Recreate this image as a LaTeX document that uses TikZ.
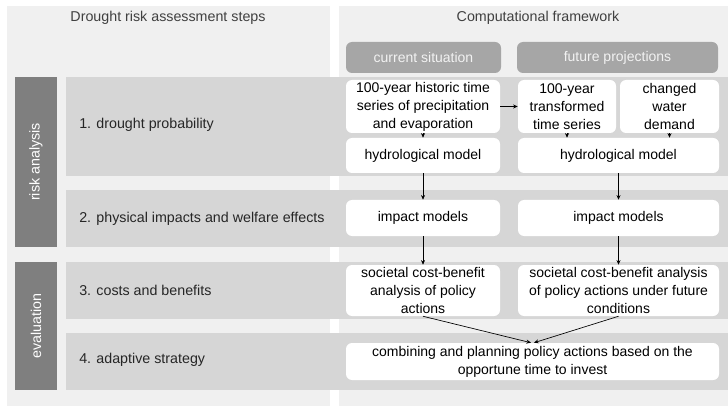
\documentclass[tikz,border=0pt]{standalone}
\usepackage{fontspec}
\setmainfont{Liberation Sans}
\usepackage{tikz}
\usetikzlibrary{arrows.meta}

\definecolor{panelgray}{HTML}{F0F0F0}
\definecolor{bandgray}{HTML}{D6D6D6}
\definecolor{headgray}{HTML}{A6A6A6}
\definecolor{sidegray}{HTML}{7F7F7F}
\definecolor{titlegray}{HTML}{404040}

\tikzset{
  wbox/.style={fill=white, rounded corners=4.5pt, inner sep=0pt, align=center, text=black, font=\fontsize{10.5}{13.5}\selectfont},
  hbox/.style={fill=headgray, rounded corners=4.5pt, inner sep=0pt, align=center, text=white!95!black, font=\fontsize{10.5}{13.5}\selectfont},
  lbl/.style={inner sep=0.75pt, text=black!85, font=\fontsize{10.7}{13.5}\selectfont},
  flow/.style={-{Stealth[length=3.5pt,width=3pt]}, line width=0.5pt, black}
}

\begin{document}
\begin{tikzpicture}[x=0.75pt,y=0.75pt,yscale=-1,xscale=1]
\useasboundingbox (0,0) rectangle (728,406);

%Shape: Rectangle (panels)
\fill[panelgray] (7,6) rectangle (330,406);
\fill[panelgray] (339,6) rectangle (728,406);
%Shape: Rectangle (row bands)
\fill[bandgray] (66,77) rectangle (728,176);
\fill[bandgray] (66,190) rectangle (728,247);
\fill[bandgray] (66,262) rectangle (728,319);
\fill[bandgray] (66,333) rectangle (728,390);
%Shape: Rectangle (side bars)
\fill[sidegray] (15,77) rectangle (57,247);
\fill[sidegray] (15,262) rectangle (57,390);

% Text Node
\draw (36,162) node (riskanalysis) [rotate=90, text=white, font=\fontsize{10.7}{13.5}\selectfont] {risk analysis};
% Text Node
\draw (36,326) node (evaluation) [rotate=90, text=white, font=\fontsize{10.7}{13.5}\selectfont] {evaluation};

% Text Node
\draw (168,18) node (stepstitle) [lbl, text=titlegray] {Drought risk assessment steps};
% Text Node
\draw (538,18) node (frametitle) [lbl, text=titlegray] {Computational framework};

% Text Node
\draw (78,125) node (step1) [lbl, anchor=west] {1. drought probability};
% Text Node
\draw (78,219) node (step2) [lbl, anchor=west] {2. physical impacts and welfare effects};
% Text Node
\draw (78,290) node (step3) [lbl, anchor=west] {3. costs and benefits};
% Text Node
\draw (78,360) node (step4) [lbl, anchor=west] {4. adaptive strategy};

%Shape: Rounded Rect (headers)
\draw (423.5,57.5) node (current) [hbox, minimum width=116.25pt, minimum height=23.25pt] {current situation};
\draw (617.5,57.5) node (future) [hbox, minimum width=150.75pt, minimum height=23.25pt] {future projections};

%Shape: Rounded Rect (row 1)
\draw (423,106.5) node (hist) [wbox, minimum width=115.5pt, minimum height=39.75pt] {100-year historic time\\series of precipitation\\and evaporation};
\draw (567,106.5) node (trans) [wbox, minimum width=73.5pt, minimum height=39.75pt] {100-year\\transformed\\time series};
\draw (669.5,106.5) node (demand) [wbox, minimum width=74.25pt, minimum height=39.75pt] {changed\\water\\demand};
\draw (423,155.5) node (hydroA) [wbox, minimum width=115.5pt, minimum height=26.25pt] {hydrological model};
\draw (618.5,155.5) node (hydroB) [wbox, minimum width=150.75pt, minimum height=26.25pt] {hydrological model};

%Shape: Rounded Rect (row 2)
\draw (423,218) node (impactA) [wbox, minimum width=115.5pt, minimum height=27pt] {impact models};
\draw (618.5,218) node (impactB) [wbox, minimum width=150.75pt, minimum height=27pt] {impact models};

%Shape: Rounded Rect (row 3)
\draw (423,290.5) node (cbaA) [wbox, minimum width=115.5pt, minimum height=38.25pt] {societal cost-benefit\\analysis of policy\\actions};
\draw (618.5,290.5) node (cbaB) [wbox, minimum width=150.75pt, minimum height=38.25pt] {societal cost-benefit analysis\\of policy actions under future\\conditions};

%Shape: Rounded Rect (row 4)
\draw (532.5,361.5) node (combine) [wbox, minimum width=279.75pt, minimum height=27.75pt] {combining and planning policy actions based on the\\opportune time to invest};

%Straight Lines
\draw[flow] (hist) -- (trans);
\draw[flow] (hist) -- (hydroA);
\draw[flow] (trans.south) -- (trans.south |- hydroB.north);
\draw[flow] (demand.south) -- (demand.south |- hydroB.north);
\draw[flow] (hydroA) -- (impactA);
\draw[flow] (hydroB) -- (impactB);
\draw[flow] (impactA) -- (cbaA);
\draw[flow] (impactB) -- (cbaB);
\draw[flow] (cbaA.south) -- ([xshift=-1.1pt]combine.north);
\draw[flow] (cbaB.south) -- ([xshift=1.1pt]combine.north);

\end{tikzpicture}
\end{document}
